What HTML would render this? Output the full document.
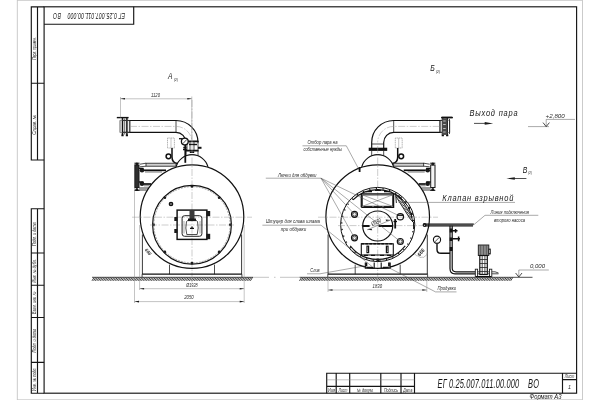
<!DOCTYPE html>
<html lang="ru"><head><meta charset="utf-8"><title>ЕГ 0.25.007.011.00.000 ВО</title>
<style>
html,body{margin:0;padding:0;background:#fff;}
body{width:600px;height:400px;overflow:hidden;}
svg{display:block;will-change:transform;opacity:.999;}
svg *{vector-effect:none;}
.sheet{fill:#fff;stroke:#c6c6c6;stroke-width:.9;}
.f{fill:none;stroke:#151515;stroke-width:1.15;}
.k{fill:none;stroke:#111;stroke-width:1.2;}
.m{fill:none;stroke:#222;stroke-width:.8;}
.n{fill:none;stroke:#888;stroke-width:.5;}
.c{fill:none;stroke:#9a9a9a;stroke-width:.5;stroke-dasharray:7 1.5 1.5 1.5;}
.fill{fill:#1a1a1a;stroke:none;}
.pm{fill:#8a8a8a;stroke:#1a1a1a;stroke-width:.9;}
.t{font-family:"Liberation Sans",sans-serif;font-style:italic;fill:#161616;}
.ts{font-family:"Liberation Sans",sans-serif;font-style:italic;fill:#2a2a2a;}
</style></head><body>
<svg width="600" height="400" viewBox="0 0 600 400">
<rect width="600" height="400" fill="#fff"/>
<g id="frame">
<rect class="sheet" x="17.3" y="0.3" width="565.2" height="399.5"/>
<rect class="f" x="44.1" y="6.8" width="532.5" height="386.4"/>
<path class="f" d="M44.1 6.8H31.3V160H44.1 M37.5 6.8V160 M31.3 83.2H44.1"/>
<path class="f" d="M44.1 208.7H31.3V393.2H44.1 M37.5 208.7V393.2 M31.3 253H44.1 M31.3 285.2H44.1 M31.3 317.5H44.1 M31.3 362.4H44.1"/>
<path class="f" d="M133.7 6.8V24.2H44.1"/>
<path class="f" d="M326.7 393.2V373.2H576.6 M336.2 373.2V393.2 M349.7 373.2V393.2 M380.8 373.2V393.2 M401 373.2V393.2 M414.5 373.2V393.2 M562.5 373.2V393.2 M562.5 379.6H576.6 M326.7 386.3H414.5"/>
<line class="n" x1="326.7" y1="379.8" x2="414.5" y2="379.8"/>
</g>
<g id="frametext">
<text class="t" transform="translate(437.6 387.7) scale(0.62 1)" x="0" y="0" font-size="12" text-anchor="start" textLength="131.61" lengthAdjust="spacing">ЕГ 0.25.007.011.00.000</text>
<text class="t" transform="translate(528 387.7) scale(0.62 1)" x="0" y="0" font-size="12" text-anchor="start" textLength="17.74" lengthAdjust="spacing">ВО</text>
<text class="t" x="545.5" y="399" font-size="6.6" text-anchor="middle" textLength="32" lengthAdjust="spacingAndGlyphs">Формат А3</text>
<text class="ts" x="569.5" y="378.4" font-size="4.8" text-anchor="middle" textLength="9.5" lengthAdjust="spacingAndGlyphs">Лист</text>
<text class="ts" x="569.5" y="389.2" font-size="5.5" text-anchor="middle">1</text>
<text class="ts" x="331.5" y="391.6" font-size="4.8" text-anchor="middle" textLength="7" lengthAdjust="spacingAndGlyphs">Изм</text>
<text class="ts" x="343" y="391.6" font-size="4.8" text-anchor="middle" textLength="9" lengthAdjust="spacingAndGlyphs">Лист</text>
<text class="ts" x="365.2" y="391.6" font-size="4.8" text-anchor="middle" textLength="17" lengthAdjust="spacingAndGlyphs">№ докум.</text>
<text class="ts" x="391" y="391.6" font-size="4.8" text-anchor="middle" textLength="14" lengthAdjust="spacingAndGlyphs">Подпись</text>
<text class="ts" x="407.8" y="391.6" font-size="4.8" text-anchor="middle" textLength="9" lengthAdjust="spacingAndGlyphs">Дата</text>
<g transform="rotate(180 88.8 15.4)">
<text class="t" transform="translate(52.5 18.3) scale(0.63 1)" x="0" y="0" font-size="8.2" text-anchor="start" textLength="91.27" lengthAdjust="spacing">ЕГ 0.25.007.011.00.000</text>
<text class="t" transform="translate(116.5 18.3) scale(0.63 1)" x="0" y="0" font-size="8.2" text-anchor="start" textLength="12.7" lengthAdjust="spacing">ВО</text>
</g>
<g transform="rotate(-90 36 48.5)">
<text class="ts" x="36" y="48.5" font-size="4.5" text-anchor="middle" textLength="22.5" lengthAdjust="spacingAndGlyphs">Перв. примен.</text>
</g>
<g transform="rotate(-90 36 124.7)">
<text class="ts" x="36" y="124.7" font-size="4.5" text-anchor="middle" textLength="20" lengthAdjust="spacingAndGlyphs">Справ. №</text>
</g>
<g transform="rotate(-90 36 234.2)">
<text class="ts" x="36" y="234.2" font-size="4.5" text-anchor="middle" textLength="23.5" lengthAdjust="spacingAndGlyphs">Подп. и дата</text>
</g>
<g transform="rotate(-90 36 270.7)">
<text class="ts" x="36" y="270.7" font-size="4.5" text-anchor="middle" textLength="23.5" lengthAdjust="spacingAndGlyphs">Инв. № дубл.</text>
</g>
<g transform="rotate(-90 36 302.7)">
<text class="ts" x="36" y="302.7" font-size="4.5" text-anchor="middle" textLength="22.5" lengthAdjust="spacingAndGlyphs">Взам. инв. №</text>
</g>
<g transform="rotate(-90 36 340.7)">
<text class="ts" x="36" y="340.7" font-size="4.5" text-anchor="middle" textLength="23.5" lengthAdjust="spacingAndGlyphs">Подп. и дата</text>
</g>
<g transform="rotate(-90 36 379.2)">
<text class="ts" x="36" y="379.2" font-size="4.5" text-anchor="middle" textLength="23.5" lengthAdjust="spacingAndGlyphs">Инв. № подл.</text>
</g>
</g>
<g id="ground">
<path class="m" d="M92 280.8l2.1-3.4M93.65 280.8l2.1-3.4M95.3 280.8l2.1-3.4M96.95 280.8l2.1-3.4M98.6 280.8l2.1-3.4M100.25 280.8l2.1-3.4M101.9 280.8l2.1-3.4M103.55 280.8l2.1-3.4M105.2 280.8l2.1-3.4M106.85 280.8l2.1-3.4M108.5 280.8l2.1-3.4M110.15 280.8l2.1-3.4M111.8 280.8l2.1-3.4M113.45 280.8l2.1-3.4M115.1 280.8l2.1-3.4M116.75 280.8l2.1-3.4M118.4 280.8l2.1-3.4M120.05 280.8l2.1-3.4M121.7 280.8l2.1-3.4M123.35 280.8l2.1-3.4M125.0 280.8l2.1-3.4M126.65 280.8l2.1-3.4M128.3 280.8l2.1-3.4M129.95 280.8l2.1-3.4M131.6 280.8l2.1-3.4M133.25 280.8l2.1-3.4M134.9 280.8l2.1-3.4M136.55 280.8l2.1-3.4M138.2 280.8l2.1-3.4M139.85 280.8l2.1-3.4M141.5 280.8l2.1-3.4M143.15 280.8l2.1-3.4M144.8 280.8l2.1-3.4M146.45 280.8l2.1-3.4M148.1 280.8l2.1-3.4M149.75 280.8l2.1-3.4M151.4 280.8l2.1-3.4M153.05 280.8l2.1-3.4M154.7 280.8l2.1-3.4M156.35 280.8l2.1-3.4M158.0 280.8l2.1-3.4M159.65 280.8l2.1-3.4M161.3 280.8l2.1-3.4M162.95 280.8l2.1-3.4M164.6 280.8l2.1-3.4M166.25 280.8l2.1-3.4M167.9 280.8l2.1-3.4M169.55 280.8l2.1-3.4M171.2 280.8l2.1-3.4M172.85 280.8l2.1-3.4M174.5 280.8l2.1-3.4M176.15 280.8l2.1-3.4M177.8 280.8l2.1-3.4M179.45 280.8l2.1-3.4M181.1 280.8l2.1-3.4M182.75 280.8l2.1-3.4M184.4 280.8l2.1-3.4M186.05 280.8l2.1-3.4M187.7 280.8l2.1-3.4M189.35 280.8l2.1-3.4M191.0 280.8l2.1-3.4M192.65 280.8l2.1-3.4M194.3 280.8l2.1-3.4M195.95 280.8l2.1-3.4M197.6 280.8l2.1-3.4M199.25 280.8l2.1-3.4M200.9 280.8l2.1-3.4M202.55 280.8l2.1-3.4M204.2 280.8l2.1-3.4M205.85 280.8l2.1-3.4M207.5 280.8l2.1-3.4M209.15 280.8l2.1-3.4M210.8 280.8l2.1-3.4M212.45 280.8l2.1-3.4M214.1 280.8l2.1-3.4M215.75 280.8l2.1-3.4M217.4 280.8l2.1-3.4M219.05 280.8l2.1-3.4M220.7 280.8l2.1-3.4M222.35 280.8l2.1-3.4M224.0 280.8l2.1-3.4M225.65 280.8l2.1-3.4M227.3 280.8l2.1-3.4M228.95 280.8l2.1-3.4M230.6 280.8l2.1-3.4M232.25 280.8l2.1-3.4M233.9 280.8l2.1-3.4M235.55 280.8l2.1-3.4M237.2 280.8l2.1-3.4M238.85 280.8l2.1-3.4M240.5 280.8l2.1-3.4M242.15 280.8l2.1-3.4M243.8 280.8l2.1-3.4M245.45 280.8l2.1-3.4M247.1 280.8l2.1-3.4M248.75 280.8l2.1-3.4M250.4 280.8l2.1-3.4" style="stroke-width:.8;stroke:#111"/>
<line class="m" x1="92" y1="277.3" x2="253" y2="277.3"/>
<path class="m" d="M299.5 280.8l2.1-3.4M301.15 280.8l2.1-3.4M302.8 280.8l2.1-3.4M304.45 280.8l2.1-3.4M306.1 280.8l2.1-3.4M307.75 280.8l2.1-3.4M309.4 280.8l2.1-3.4M311.05 280.8l2.1-3.4M312.7 280.8l2.1-3.4M314.35 280.8l2.1-3.4M316.0 280.8l2.1-3.4M317.65 280.8l2.1-3.4M319.3 280.8l2.1-3.4M320.95 280.8l2.1-3.4M322.6 280.8l2.1-3.4M324.25 280.8l2.1-3.4M325.9 280.8l2.1-3.4M327.55 280.8l2.1-3.4M329.2 280.8l2.1-3.4M330.85 280.8l2.1-3.4M332.5 280.8l2.1-3.4M334.15 280.8l2.1-3.4M335.8 280.8l2.1-3.4M337.45 280.8l2.1-3.4M339.1 280.8l2.1-3.4M340.75 280.8l2.1-3.4M342.4 280.8l2.1-3.4M344.05 280.8l2.1-3.4M345.7 280.8l2.1-3.4M347.35 280.8l2.1-3.4M349.0 280.8l2.1-3.4M350.65 280.8l2.1-3.4M352.3 280.8l2.1-3.4M353.95 280.8l2.1-3.4M355.6 280.8l2.1-3.4M357.25 280.8l2.1-3.4M358.9 280.8l2.1-3.4M360.55 280.8l2.1-3.4M362.2 280.8l2.1-3.4M363.85 280.8l2.1-3.4M365.5 280.8l2.1-3.4M367.15 280.8l2.1-3.4M368.8 280.8l2.1-3.4M370.45 280.8l2.1-3.4M372.1 280.8l2.1-3.4M373.75 280.8l2.1-3.4M375.4 280.8l2.1-3.4M377.05 280.8l2.1-3.4M378.7 280.8l2.1-3.4M380.35 280.8l2.1-3.4M382.0 280.8l2.1-3.4M383.65 280.8l2.1-3.4M385.3 280.8l2.1-3.4M386.95 280.8l2.1-3.4M388.6 280.8l2.1-3.4M390.25 280.8l2.1-3.4M391.9 280.8l2.1-3.4M393.55 280.8l2.1-3.4M395.2 280.8l2.1-3.4M396.85 280.8l2.1-3.4M398.5 280.8l2.1-3.4M400.15 280.8l2.1-3.4M401.8 280.8l2.1-3.4M403.45 280.8l2.1-3.4M405.1 280.8l2.1-3.4M406.75 280.8l2.1-3.4M408.4 280.8l2.1-3.4M410.05 280.8l2.1-3.4M411.7 280.8l2.1-3.4M413.35 280.8l2.1-3.4M415.0 280.8l2.1-3.4M416.65 280.8l2.1-3.4M418.3 280.8l2.1-3.4M419.95 280.8l2.1-3.4M421.6 280.8l2.1-3.4M423.25 280.8l2.1-3.4M424.9 280.8l2.1-3.4M426.55 280.8l2.1-3.4M428.2 280.8l2.1-3.4M429.85 280.8l2.1-3.4M431.5 280.8l2.1-3.4M433.15 280.8l2.1-3.4M434.8 280.8l2.1-3.4M436.45 280.8l2.1-3.4M438.1 280.8l2.1-3.4M439.75 280.8l2.1-3.4M441.4 280.8l2.1-3.4M443.05 280.8l2.1-3.4M444.7 280.8l2.1-3.4M446.35 280.8l2.1-3.4M448.0 280.8l2.1-3.4M449.65 280.8l2.1-3.4M451.3 280.8l2.1-3.4M452.95 280.8l2.1-3.4M454.6 280.8l2.1-3.4M456.25 280.8l2.1-3.4M457.9 280.8l2.1-3.4M459.55 280.8l2.1-3.4M461.2 280.8l2.1-3.4M462.85 280.8l2.1-3.4M464.5 280.8l2.1-3.4M466.15 280.8l2.1-3.4M467.8 280.8l2.1-3.4M469.45 280.8l2.1-3.4M471.1 280.8l2.1-3.4M472.75 280.8l2.1-3.4M474.4 280.8l2.1-3.4M476.05 280.8l2.1-3.4M477.7 280.8l2.1-3.4M479.35 280.8l2.1-3.4M481.0 280.8l2.1-3.4M482.65 280.8l2.1-3.4M484.3 280.8l2.1-3.4M485.95 280.8l2.1-3.4M487.6 280.8l2.1-3.4M489.25 280.8l2.1-3.4M490.9 280.8l2.1-3.4M492.55 280.8l2.1-3.4M494.2 280.8l2.1-3.4M495.85 280.8l2.1-3.4M497.5 280.8l2.1-3.4M499.15 280.8l2.1-3.4M500.8 280.8l2.1-3.4M502.45 280.8l2.1-3.4M504.1 280.8l2.1-3.4M505.75 280.8l2.1-3.4M507.4 280.8l2.1-3.4M509.05 280.8l2.1-3.4M510.7 280.8l2.1-3.4" style="stroke-width:.8;stroke:#111"/>
<line class="m" x1="299.5" y1="277.3" x2="532.5" y2="277.3"/>
<line class="n" x1="253" y1="277.3" x2="269" y2="277.3"/>
<line class="n" x1="274" y1="277.3" x2="275.5" y2="277.3"/>
<line class="n" x1="280" y1="277.3" x2="299.5" y2="277.3"/>
</g>
<g id="viewA">
<g>
<circle class="k" cx="192" cy="216.6" r="51.8"/>
<path class="k" d="M176 166.9 A16.6 16.6 0 0 1 208 166.9"/>
<path class="m" d="M186 150.8V156 M198 150.8V156"/>
<path class="k" d="M186 141.3H198.4 M186 150.6H198.6" style="stroke-width:1.8"/>
<path class="k" d="M189.8 152.2H194.2" style="stroke-width:1.6"/>
<path class="m" d="M187 141.3V150.6 M198 141.3V150.6 M190 141.3V150.6 M194 141.3V150.6"/>
<path class="k" d="M198 147.8H201.5" style="stroke-width:2"/>
<path class="k" d="M189 144.5H197" style="stroke-width:1.4"/>
<path class="k" d="M122 120.5H176 A22 22 0 0 1 198 142.5V141"/>
<path class="k" d="M122 132.3H176 A10.2 10.2 0 0 1 186 142.5V141"/>
<line class="m" x1="176" y1="120.5" x2="176" y2="132.3"/>
<line class="m" x1="130" y1="120.5" x2="130" y2="132.3"/>
<path class="c" d="M130 126.4H176 A16 16 0 0 1 192 142.4"/>
<path class="k" d="M122.5 117.5V135.3 M126.9 117.8V135.3" style="stroke-width:1.5"/>
<path class="m" d="M120 120.3V132.6 M124.7 118.5V134.5 M129.4 120V133" style="stroke-width:.7"/>
<path class="m" d="M120 120.3H129.4 M120 132.6H129.4" style="stroke-width:.6;stroke:#555"/>
<path class="k" d="M116.8 117.6H128.6" style="stroke-width:1.4"/>
<path class="k" d="M121.4 135.4H123.6 M125.8 135.4H128" style="stroke-width:1.6"/>
<line class="c" x1="192" y1="100" x2="192" y2="284"/>
<rect class="n" x="167.5" y="138" width="6.9" height="10" style="stroke-dasharray:1.2 0.6;stroke:#666"/>
<line class="n" x1="171" y1="138" x2="171" y2="148"/>
<circle class="k" cx="168.5" cy="156.3" r="2.4" style="stroke-width:1.5"/>
<path class="k" d="M172 148V157 Q172 163 177.5 163.5" style="stroke-width:1.5"/>
<rect x="146" y="163.2" width="30" height="3" fill="#d0d0d0" stroke="#1a1a1a" stroke-width=".8"/>
<path class="m" d="M146 163.2L140 164.2 M146 166.2L140 166.8"/>
<path class="k" d="M166 170.3H144" style="stroke-width:1.7"/>
<path class="m" d="M162 172H145" style="stroke:#555"/>
<path class="k" d="M151 184H144" style="stroke-width:1.7"/>
<path class="m" d="M149.5 185.8H144" style="stroke:#555"/>
<path class="m" d="M148 188H139 M146.8 190H139" style="stroke-width:0.9"/>
<rect x="134.7" y="165" width="4.3" height="22.5" fill="#2e2e2e" stroke="#1a1a1a" stroke-width="1"/>
<circle class="fill" cx="136.9" cy="163.9" r="1.5"/>
<circle class="fill" cx="136.9" cy="189.4" r="1.5"/>
<path class="k" d="M134.4 163.2H139.5 M134.4 190.4H139.5" style="stroke-width:1"/>
<circle class="fill" cx="142" cy="170.3" r="2.3"/>
<circle class="fill" cx="142" cy="183.8" r="2.3"/>
<path class="k" d="M139 168.4H143.5 M139 182H143.5" style="stroke-width:1.3"/>
<path class="m" d="M142.4 234.5V274.2 M241.6 234.5V274.2" style="stroke-width:0.9"/>
<path class="m" d="M169.5 264.6V274.2 M214.5 264.6V274.2" style="stroke-width:0.8"/>
<path class="k" d="M142.1 274.2H241.9"/>
<path class="m" d="M142.1 274.2V277.3 M241.9 274.2V277.3"/>
</g>
<circle class="k" cx="192" cy="224.8" r="39.4"/>
<circle class="n" cx="192" cy="224.8" r="38.1" style="stroke-dasharray:2 1;stroke:#555"/>
<circle class="fill" cx="192.0" cy="263.1" r="1.3"/>
<circle class="fill" cx="164.92" cy="251.88" r="1.3"/>
<circle class="fill" cx="153.7" cy="224.8" r="1.3"/>
<circle class="fill" cx="164.92" cy="197.72" r="1.3"/>
<circle class="fill" cx="192.0" cy="186.5" r="1.3"/>
<circle class="fill" cx="219.08" cy="197.72" r="1.3"/>
<circle class="fill" cx="230.3" cy="224.8" r="1.3"/>
<circle class="fill" cx="219.08" cy="251.88" r="1.3"/>
<line class="c" x1="132" y1="217.2" x2="252" y2="217.2"/>
<line class="c" x1="150" y1="225" x2="234" y2="225"/>
<circle class="k" cx="171" cy="204" r="1.5" style="stroke-width:1.7"/>
<rect class="k" x="177.1" y="210.1" width="29.8" height="29.3" style="stroke-width:1.45"/>
<rect class="m" x="182.1" y="215.7" width="19.8" height="20.6" rx="2.5" style="stroke-width:1"/>
<path class="m" d="M186.5 221.5Q185 228 186.8 234.5H197.2Q199 228 197.5 221.5L195 219.5H189Z"/>
<path class="n" d="M184 221V233.5 M200 221V233.5" style="stroke:#555"/>
<rect x="189.5" y="210.6" width="5" height="9.4" fill="#3a3a3a"/>
<rect class="fill" x="188" y="218.5" width="8" height="2.6"/>
<path class="k" d="M190 228.3H194 M192 226.6V228.3" style="stroke-width:1.3"/>
<rect class="fill" x="206.4" y="211" width="3.8" height="5.2"/>
<rect class="fill" x="206.4" y="233.8" width="3.8" height="5.4"/>
<rect class="fill" x="174.3" y="217" width="3" height="4"/>
<rect class="fill" x="174.3" y="229" width="3" height="4"/>
<circle cx="184.8" cy="141.6" r="3.4" fill="#fff" stroke="#111" stroke-width="1.3"/>
<line class="m" x1="182.7" y1="143.8" x2="186.8" y2="139.5"/>
<path class="k" d="M179 138.7H182" style="stroke-width:1.3"/>
<path class="k" d="M185.3 145V162.8" style="stroke-width:1.8"/>
<path class="k" d="M183.3 147.5H186.5 M183 149.6H186.8" style="stroke-width:1.5"/>
<line class="n" x1="120.5" y1="97" x2="120.5" y2="117.5"/>
<line class="n" x1="191.8" y1="96.5" x2="191.8" y2="141"/>
<line class="n" x1="120.5" y1="98.8" x2="191.8" y2="98.8"/>
<path class="fill" d="M120.5 98.8l4.5-.8v1.6Z M191.8 98.8l-4.5-.8v1.6Z"/>
<text class="ts" x="155.5" y="97" font-size="5" text-anchor="middle" textLength="9" lengthAdjust="spacingAndGlyphs">1120</text>
<line class="n" x1="134.5" y1="164" x2="134.5" y2="303"/>
<line class="n" x1="139.6" y1="225" x2="139.6" y2="290"/>
<line class="n" x1="244.2" y1="225" x2="244.2" y2="303"/>
<line class="n" x1="139.6" y1="288.7" x2="244.2" y2="288.7"/>
<line class="n" x1="134.5" y1="301.6" x2="244.2" y2="301.6"/>
<path class="fill" d="M139.6 288.7l4.5-.8v1.6Z M244.2 288.7l-4.5-.8v1.6Z M134.5 301.6l4.5-.8v1.6Z M244.2 301.6l-4.5-.8v1.6Z"/>
<text class="ts" x="192" y="286.6" font-size="5.2" text-anchor="middle" textLength="11.5" lengthAdjust="spacingAndGlyphs">Ø1928</text>
<text class="ts" x="189" y="299.3" font-size="5.2" text-anchor="middle" textLength="9.5" lengthAdjust="spacingAndGlyphs">2050</text>
<g transform="rotate(50 148 252)">
<text class="ts" x="148" y="253.4" font-size="4.6" text-anchor="middle" textLength="7.5" lengthAdjust="spacingAndGlyphs" style="font-weight:bold">666</text>
</g>
<text class="t" x="168" y="79" font-size="8.8" text-anchor="start" textLength="4.5" lengthAdjust="spacingAndGlyphs">А</text>
<text class="ts" x="174" y="80.6" font-size="4" text-anchor="start" textLength="4" lengthAdjust="spacingAndGlyphs">(2)</text>
</g>
<g id="viewB">
<g>
<circle class="k" cx="377.7" cy="216.6" r="51.8"/>
<path class="k" d="M393.7 166.9 A16.6 16.6 0 0 0 361.7 166.9"/>
<path class="m" d="M383.7 150.8V156 M371.7 150.8V156"/>
<path class="k" d="M387.2 149.3H368.7" style="stroke-width:3.2"/>
<path class="m" d="M383.7 144H371.7"/>
<path class="k" d="M447.7 120.5H393.7 A22 22 0 0 0 371.7 142.5V148"/>
<path class="k" d="M447.7 132.3H393.7 A10.2 10.2 0 0 0 383.7 142.5V148"/>
<line class="m" x1="393.7" y1="120.5" x2="393.7" y2="132.3"/>
<line class="m" x1="439.7" y1="120.5" x2="439.7" y2="132.3"/>
<path class="c" d="M439.7 126.4H393.7 A16 16 0 0 0 377.7 142.4"/>
<path class="k" d="M447.2 117.5V135.3 M442.8 117.8V135.3" style="stroke-width:1.5"/>
<path class="m" d="M449.7 120.3V132.6 M445.0 118.5V134.5 M440.3 120V133" style="stroke-width:.7"/>
<path class="m" d="M449.7 120.3H440.3 M449.7 132.6H440.3" style="stroke-width:.6;stroke:#555"/>
<path class="k" d="M452.9 117.6H441.1" style="stroke-width:1.4"/>
<path class="k" d="M448.3 135.4H446.1 M443.9 135.4H441.7" style="stroke-width:1.6"/>
<rect x="441.7" y="118.3" width="5.6" height="16.6" fill="#4a4a4a"/>
<path class="k" d="M443.2 121H445.7 M443.2 124.5H445.7 M443.2 128.5H445.7 M443.2 132H445.7" style="stroke:#ddd;stroke-width:.8"/>
<path class="m" d="M449.5 119V134"/>
<path class="k" d="M441.7 117.4H452.2" style="stroke-width:1.5"/>
<line class="c" x1="377.7" y1="146" x2="377.7" y2="284"/>
<rect class="n" x="395.3" y="138" width="6.9" height="10" style="stroke-dasharray:1.2 0.6;stroke:#666"/>
<line class="n" x1="398.7" y1="138" x2="398.7" y2="148"/>
<circle class="k" cx="401.2" cy="156.3" r="2.4" style="stroke-width:1.5"/>
<path class="k" d="M397.7 148V157 Q397.7 163 392.2 163.5" style="stroke-width:1.5"/>
<rect x="393.7" y="163.2" width="30" height="3" fill="#d0d0d0" stroke="#1a1a1a" stroke-width=".8"/>
<path class="m" d="M423.7 163.2L429.7 164.2 M423.7 166.2L429.7 166.8"/>
<path class="k" d="M403.7 170.3H425.7" style="stroke-width:1.7"/>
<path class="m" d="M407.7 172H424.7" style="stroke:#555"/>
<path class="k" d="M418.7 184H425.7" style="stroke-width:1.7"/>
<path class="m" d="M420.2 185.8H425.7" style="stroke:#555"/>
<path class="m" d="M421.7 188H430.7 M422.9 190H430.7" style="stroke-width:0.9"/>
<rect x="430.7" y="165" width="4.3" height="22.5" fill="#f4f4f4" stroke="#1a1a1a" stroke-width="1"/>
<circle class="fill" cx="432.8" cy="163.9" r="1.5"/>
<circle class="fill" cx="432.8" cy="189.4" r="1.5"/>
<path class="k" d="M435.3 163.2H430.2 M435.3 190.4H430.2" style="stroke-width:1"/>
<circle class="fill" cx="427.7" cy="170.3" r="2.3"/>
<circle class="fill" cx="427.7" cy="183.8" r="2.3"/>
<path class="k" d="M430.7 168.4H426.2 M430.7 182H426.2" style="stroke-width:1.3"/>
<path class="m" d="M427.3 234.5V274.2 M328.1 234.5V274.2" style="stroke-width:0.9"/>
<path class="m" d="M400.2 264.6V274.2 M355.2 264.6V274.2" style="stroke-width:0.8"/>
<path class="k" d="M427.6 274.2H327.8"/>
<path class="m" d="M427.6 274.2V277.3 M327.8 274.2V277.3"/>
</g>
<circle class="k" cx="377.7" cy="224.5" r="37.1" style="stroke-width:1"/>
<circle class="n" cx="377.7" cy="224.5" r="36" style="stroke-dasharray:1.2 5.5;stroke:#222;stroke-width:1.5"/>
<path class="k" d="M353.02 199.82A34.9 34.9 0 0 1 402.38 199.82"/>
<path class="k" d="M405.20 245.99A34.9 34.9 0 0 1 350.20 245.99"/>
<line class="c" x1="318" y1="217.2" x2="438" y2="217.2"/>
<line class="c" x1="338" y1="225.6" x2="424" y2="225.6"/>
<path class="k" d="M361.3 207.3V193.8 M393.6 193.8V207.3H361.3" style="stroke-width:1.3"/>
<rect class="m" x="362.6" y="195" width="29.8" height="11.2"/>
<path class="n" d="M362.6 195L392.4 206.2 M362.6 206.2L392.4 195" style="stroke:#555"/>
<path class="k" d="M361.3 193.8H393.6"/>
<path class="k" d="M366 191.6H372 M375 190.3H381 M384 191.6H389.5" style="stroke-width:1.3"/>
<path class="k" d="M364 206.8H372 M374 206.8H382 M384 206.8H391" style="stroke-width:1.3"/>
<circle class="k" cx="377.7" cy="226" r="15"/>
<path class="k" d="M362.7 226H369.6 M378.6 226H392.7" style="stroke-width:1.9"/>
<line class="n" x1="367.2" y1="229.8" x2="390.6" y2="220" style="stroke:#444"/>
<path class="fill" d="M390.6 220l-4.4 1l-.6-1.5Z M367.2 229.8l4.4-1l.6 1.5Z"/>
<g transform="rotate(-23 376.3 222.3)">
<text class="ts" x="376.3" y="224" font-size="6" text-anchor="middle" textLength="10.5" lengthAdjust="spacingAndGlyphs" style="fill:#1a1a1a">Ø550</text>
</g>
<circle class="k" cx="354.5" cy="214.3" r="3"/>
<circle class="m" cx="354.5" cy="214.3" r="1.8"/>
<circle class="k" cx="354.5" cy="237.8" r="3"/>
<circle class="m" cx="354.5" cy="237.8" r="1.8"/>
<circle class="k" cx="400.3" cy="241.5" r="3"/>
<circle class="m" cx="400.3" cy="241.5" r="1.8"/>
<circle class="k" cx="400.3" cy="216.7" r="3.2" style="stroke-width:1.2"/>
<path class="k" d="M397 215.2H403.5" style="stroke-width:1.4"/>
<path class="k" d="M395.2 219V228.5" style="stroke-width:1.8"/>
<path class="k" d="M393.5 221.5H397" style="stroke-width:1.3"/>
<rect class="k" x="361.3" y="243.8" width="32" height="11.2" style="stroke-width:1.1"/>
<rect class="k" x="367" y="246.2" width="1.6" height="6.4"/>
<rect class="k" x="386.4" y="246.2" width="1.6" height="6.4"/>
<path class="k" d="M361.3 243.8H393.3" style="stroke-dasharray:3 1;stroke-width:1.6"/>
<path class="k" d="M364 255.3H368 M371 255.3H375 M380 255.3H384 M387 255.3H391" style="stroke-width:1.3"/>
<rect class="fill" x="376.4" y="258.6" width="2.6" height="3"/>
<path class="k" d="M365.3 262.4V268.2H374.2V262.4 M381.2 262.4V268.2H390.2V262.4" style="stroke-width:1.1"/>
<path class="k" d="M367 267.5H373 M383 267.5H389" style="stroke-width:1.6"/>
<path class="k" d="M366.4 262.4V266 M389 262.4V266" style="stroke-width:1.8"/>
<path class="k" d="M396.25 194.82A35 35 0 0 1 412.61 222.06" style="stroke-width:1"/>
<path class="k" d="M396 196.6L410.6 219.6 M398.6 194.9L412.4 217.2" style="stroke-width:.9"/>
<path class="n" d="M397.3 195.7L411.6 218.5" style="stroke-dasharray:.7 .9;stroke:#222;stroke-width:2.3"/>
<path class="k" d="M395.6 194.2L396.4 203 M410.6 219.6L413.5 222V229" style="stroke-width:.9"/>
<path class="k" d="M404.5 201.5l1.5 2 M408.3 207.5l1.5 2 M411 213l1.2 2" style="stroke-width:1.5"/>
<g transform="rotate(-50 421 252.5)">
<text class="t" x="421" y="254.2" font-size="5.2" text-anchor="middle" textLength="8" lengthAdjust="spacingAndGlyphs" style="font-weight:bold;stroke-width:.4">666</text>
</g>
<path class="n" d="M414.5 253.5q1.5 3 4 2.5q1 2.5 3.5 1.2q2.2 1 3-1.2q2.5-.5 2-3"/>
<path class="n" d="M302.5 145.8H346.3L359.5 170.5" style="stroke:#555"/>
<path class="k" d="M359.6 167V172" style="stroke-width:1.8"/>
<text class="ts" x="322.5" y="143.7" font-size="5.5" text-anchor="middle" textLength="30" lengthAdjust="spacingAndGlyphs">Отбор пара на</text>
<text class="ts" x="322.7" y="150.8" font-size="5.5" text-anchor="middle" textLength="38.5" lengthAdjust="spacingAndGlyphs">собственные нужды</text>
<path class="n" d="M265.8 178.2H321 L354.5 214.3 M321 178.2L397.5 215 M321 178.2L354.5 237.8 M321 178.2L400.3 241.5" style="stroke:#555"/>
<text class="ts" x="297.3" y="177.2" font-size="5.5" text-anchor="middle" textLength="38.5" lengthAdjust="spacingAndGlyphs">Лючки для обдувки</text>
<path class="n" d="M262.4 225.2H321L372 266.5" style="stroke:#555"/>
<text class="ts" x="293" y="222.6" font-size="5.5" text-anchor="middle" textLength="54" lengthAdjust="spacingAndGlyphs">Штуцер для слива шлама</text>
<text class="ts" x="293.5" y="231.4" font-size="5.5" text-anchor="middle" textLength="25.5" lengthAdjust="spacingAndGlyphs">при обдувки</text>
<path class="n" d="M307 273.8H320L364 266" style="stroke:#555"/>
<text class="ts" x="315" y="272.4" font-size="5.5" text-anchor="middle" textLength="9.3" lengthAdjust="spacingAndGlyphs">Слив</text>
<path class="n" d="M456.5 291.9H435.5L388 267.3" style="stroke:#555"/>
<text class="ts" x="446.7" y="290.2" font-size="5.5" text-anchor="middle" textLength="18.6" lengthAdjust="spacingAndGlyphs">Продувки</text>
<path class="n" d="M515 202.4H398.5" style="stroke:#555"/>
<text class="t" transform="translate(442.3 200.8) scale(0.9 1)" x="0" y="0" font-size="8.3" text-anchor="start" textLength="78.89" lengthAdjust="spacing">Клапан взрывной</text>
<line class="n" x1="328" y1="277.5" x2="328" y2="292"/>
<line class="n" x1="426.8" y1="277.5" x2="426.8" y2="292"/>
<line class="n" x1="328" y1="290" x2="426.8" y2="290"/>
<path class="fill" d="M328 290l4.5-.8v1.6Z M426.8 290l-4.5-.8v1.6Z"/>
<text class="ts" x="377.3" y="288" font-size="5.2" text-anchor="middle" textLength="9.5" lengthAdjust="spacingAndGlyphs">1830</text>
<text class="t" x="430.2" y="71" font-size="8.8" text-anchor="start" textLength="4.5" lengthAdjust="spacingAndGlyphs">Б</text>
<text class="ts" x="436" y="72.6" font-size="4" text-anchor="start" textLength="4" lengthAdjust="spacingAndGlyphs">(2)</text>
</g>
<g id="pump">
<path class="k" d="M423.5 224.2H473.8 M425 225.8H473"/>
<circle class="k" cx="424.6" cy="225" r="1.4"/>
<path class="n" d="M473.5 225L485 215.3H538.3" style="stroke:#555"/>
<text class="ts" x="509.8" y="213.6" font-size="5.5" text-anchor="middle" textLength="38.5" lengthAdjust="spacingAndGlyphs">Линия подключения</text>
<text class="ts" x="509.5" y="221.6" font-size="5.5" text-anchor="middle" textLength="31" lengthAdjust="spacingAndGlyphs">второго насоса</text>
<path class="k" d="M450 225.8V268.5Q450 273.8 455 273.8H475.3 M452.2 225.8V268Q452.2 271.8 456 271.8H475.3"/>
<path class="k" d="M451.1 228.5V232.5 M451.1 237.5V241 M451.1 247V251" style="stroke-width:2.8"/>
<path class="k" d="M452.2 230.8H457.5 M455.6 229V232.8 M452.2 238.8H460 M458.6 236.5V241.2" style="stroke-width:1.5"/>
<circle class="k" cx="437" cy="239.7" r="3.6" style="stroke-width:1.1"/>
<line class="m" x1="434.9" y1="241.9" x2="439.1" y2="237.5"/>
<path class="k" d="M437 243.3V249.5Q437 253.3 441 253.3H450" style="stroke-width:1.4"/>
<rect class="pm" x="478.3" y="245" width="10.5" height="10.5"/>
<path class="m" d="M480.6 245V255.5 M483.5 245V255.5 M486.4 245V255.5" style="stroke:#444;stroke-width:.6"/>
<rect class="m" x="488.8" y="249" width="1.8" height="5"/>
<rect class="m" x="479.8" y="255.5" width="7.5" height="19" style="stroke-width:1.2;stroke:#111"/>
<path class="m" d="M479.8 259.5H487.3 M479.8 263.5H487.3 M479.8 267.5H487.3 M479.8 271.5H487.3 M482.2 255.5V274.5 M484.9 255.5V274.5"/>
<rect class="m" x="475.3" y="269.2" width="2.3" height="7.3" style="stroke-width:0.9"/>
<rect class="m" x="489.5" y="269.2" width="2.3" height="7.3" style="stroke-width:0.9"/>
<path class="m" d="M477.6 271.8H479.8 M477.6 273.8H479.8 M487.3 271.8H489.5 M487.3 273.8H489.5"/>
<path class="m" d="M491.8 271.8H495L498.5 273 M491.8 273.8H498.5"/>
<path class="k" d="M476 276.6H491"/>
</g>
<g id="ann">
<text class="t" transform="translate(469.4 116.4) scale(0.9 1)" x="0" y="0" font-size="8.3" text-anchor="start" textLength="53.56" lengthAdjust="spacing">Выход пара</text>
<line class="m" x1="474" y1="123.4" x2="486" y2="123.4"/>
<path class="fill" d="M493.2 123.4l-8.5-1.3v2.6Z"/>
<text class="ts" x="545.6" y="118" font-size="5.4" text-anchor="start" textLength="19.2" lengthAdjust="spacingAndGlyphs">+2,800</text>
<path class="n" d="M575 119.4H546.2V126.6 M528 126.6H549" style="stroke:#555"/>
<path class="m" d="M543 122.6L546.2 126.6L549.4 122.6" style="stroke-width:.8"/>
<text class="t" x="522.8" y="172.8" font-size="8.4" text-anchor="start" textLength="4.6" lengthAdjust="spacingAndGlyphs">В</text>
<text class="ts" x="528.3" y="174" font-size="3.6" text-anchor="start" textLength="3.6" lengthAdjust="spacingAndGlyphs">(2)</text>
<line class="m" x1="514" y1="178.5" x2="526.4" y2="178.5"/>
<path class="fill" d="M506.3 178.5l8.5-1.3v2.6Z"/>
<text class="ts" x="530" y="267.6" font-size="5.2" text-anchor="start" textLength="15" lengthAdjust="spacingAndGlyphs">0,000</text>
<path class="n" d="M548.8 270H518.8V277" style="stroke:#555"/>
<path class="m" d="M515.6 273L518.8 277L522 273" style="stroke-width:.8"/>
</g>
</svg>
</body></html>
